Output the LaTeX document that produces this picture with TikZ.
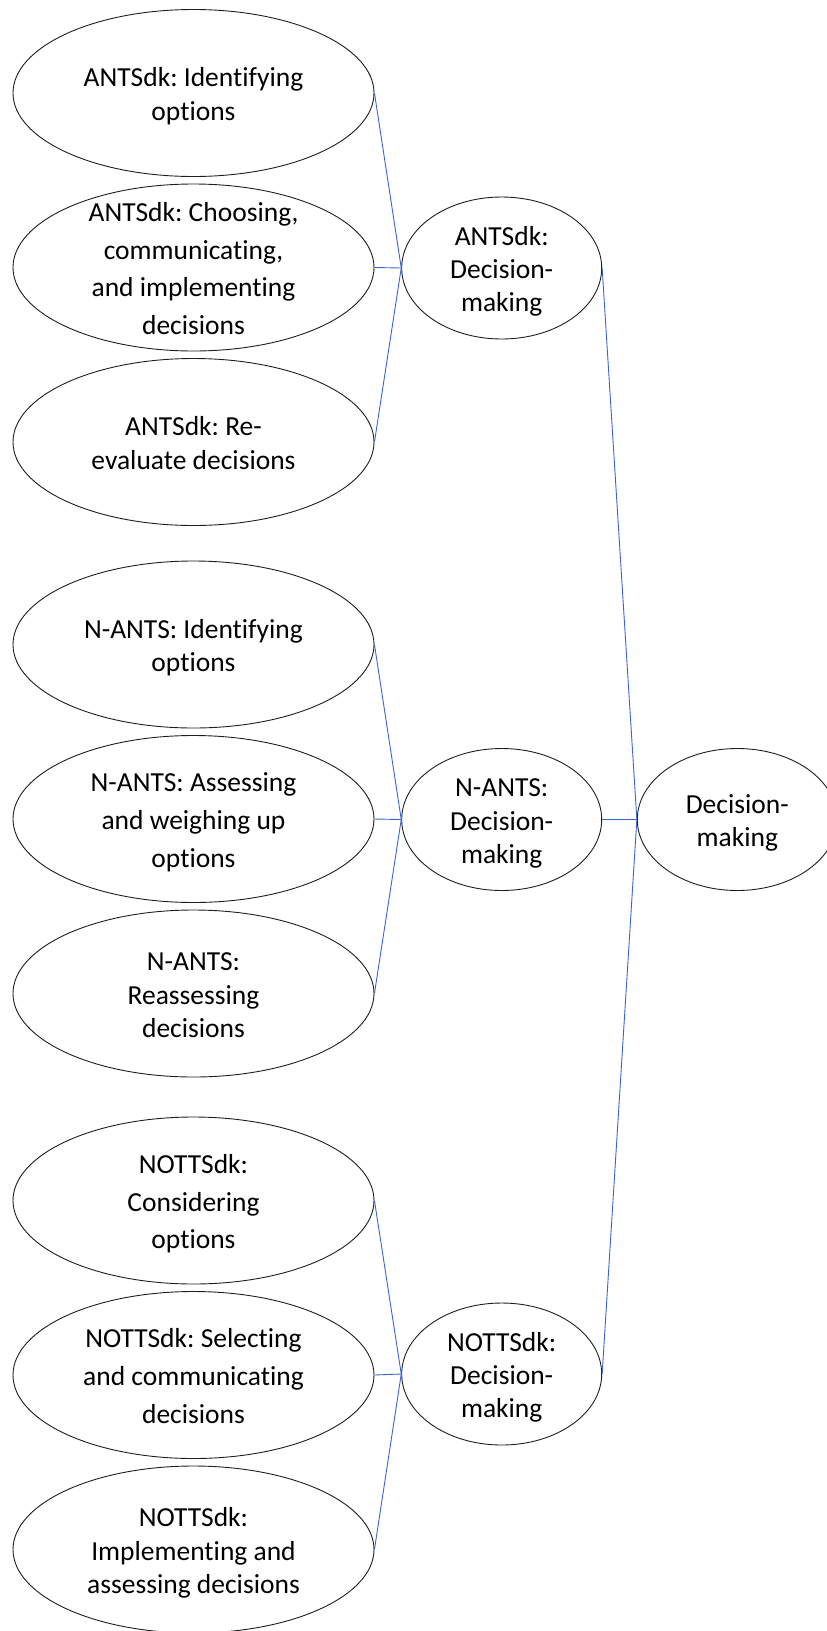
\documentclass[tikz,border=0pt]{standalone}
\usepackage{fontspec}
\setmainfont{Carlito}[Ligatures={NoCommon,NoContextual}]
\usetikzlibrary{shapes.geometric}
\definecolor{linkblue}{RGB}{60,100,205}
\definecolor{outline}{RGB}{30,30,30}
\newcommand\topstrut{\rule{0pt}{28pt}}
\newcommand\botstrut{\rule[-7pt]{0pt}{7pt}}
\tikzset{
  leaf/.style={ellipse, draw=outline, line width=0.9pt, minimum width=361pt, minimum height=167pt,
    inner sep=-40pt, align=center, font=\fontsize{27.5}{33.3}\selectfont\frenchspacing},
  wide/.style={font=\fontsize{27.5}{37.8}\selectfont\frenchspacing},
  mid/.style={ellipse, draw=outline, line width=0.9pt, minimum width=200pt, minimum height=142pt,
    inner sep=-30pt, align=center, font=\fontsize{27.5}{33.3}\selectfont\frenchspacing},
  link/.style={draw=linkblue, line width=0.9pt}
}
\begin{document}
\begin{tikzpicture}[x=1pt,y=-1pt]
\useasboundingbox (0,0) rectangle (827,1631);
\clip (0,0) rectangle (827,1631);
% group 1
\node[leaf] (a1) at (193.5,93) {\topstrut ANTSdk: Identifying\\options\botstrut};
\node[leaf,wide] (a2) at (193.5,267.5) {\topstrut ANTSdk: Choosing,\\communicating,\\and implementing\\decisions\botstrut};
\node[leaf] (a3) at (193.5,442) {\topstrut ANTSdk: Re-\\evaluate decisions\botstrut};
\node[mid] (ma) at (501.7,268) {\topstrut ANTSdk:\\Decision-\\making\botstrut};
% group 2
\node[leaf] (b1) at (193.5,644.5) {\topstrut N-ANTS: Identifying\\options\botstrut};
\node[leaf,wide] (b2) at (193.5,819) {\topstrut N-ANTS: Assessing\\and weighing up\\options\botstrut};
\node[leaf] (b3) at (193.5,993.5) {\topstrut N-ANTS:\\Reassessing\\decisions\botstrut};
\node[mid] (mb) at (501.7,819.5) {\topstrut N-ANTS:\\Decision-\\making\botstrut};
% group 3
\node[leaf,wide] (c1) at (193.5,1200.5) {\topstrut NOTTSdk:\\Considering\\options\botstrut};
\node[leaf,wide] (c2) at (193.5,1375) {\topstrut NOTTSdk: Selecting\\and communicating\\decisions\botstrut};
\node[leaf] (c3) at (193.5,1549.5) {\topstrut NOTTSdk:\\Implementing and\\assessing decisions\botstrut};
\node[mid] (mc) at (501.7,1374) {\topstrut NOTTSdk:\\Decision-\\making\botstrut};
% root
\node[mid] (root) at (737.3,819.5) {\topstrut Decision-\\making\botstrut};
% connectors
\path[link] (a1.east) -- (ma.west);
\path[link] (a2.east) -- (ma.west);
\path[link] (a3.east) -- (ma.west);
\path[link] (b1.east) -- (mb.west);
\path[link] (b2.east) -- (mb.west);
\path[link] (b3.east) -- (mb.west);
\path[link] (c1.east) -- (mc.west);
\path[link] (c2.east) -- (mc.west);
\path[link] (c3.east) -- (mc.west);
\path[link] (ma.east) -- (root.west);
\path[link] (mb.east) -- (root.west);
\path[link] (mc.east) -- (root.west);
\end{tikzpicture}
\end{document}
